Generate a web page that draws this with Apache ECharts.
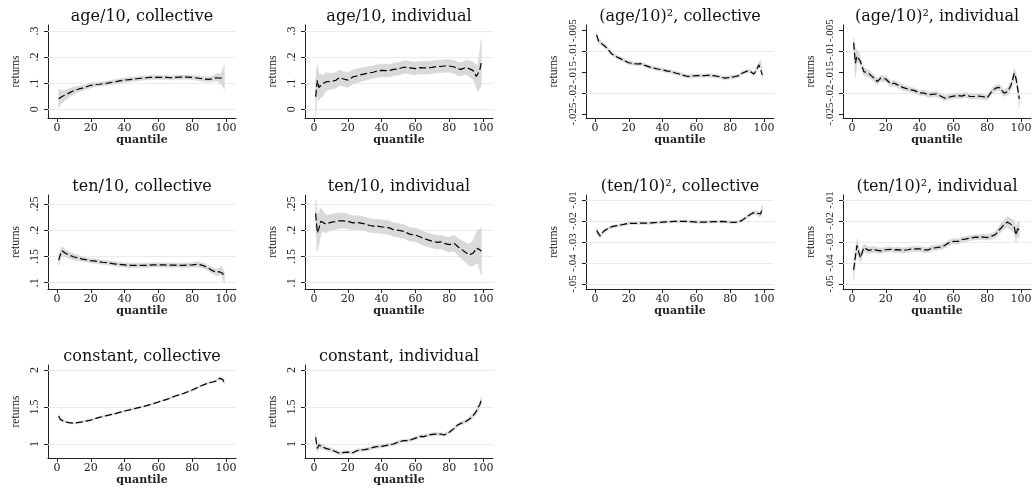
<!DOCTYPE html>
<html><head><meta charset="utf-8">
<script src="https://cdn.jsdelivr.net/npm/echarts@6/dist/echarts.min.js"></script>
<style>html,body{margin:0;padding:0;background:#fff}#c{width:1035px;height:487px}</style>
</head><body><div id="c"></div>
<script>
// ---------- DATA ----------
const quantiles = [1,2,3,4,5,7,10,13,15,17,20,23,25,27,30,33,35,37,40,43,45,47,50,53,55,57,60,63,65,67,70,73,75,77,80,83,85,87,90,92,94,95,96,97,98,99];

const ageCollEst = [.040,.046,.049,.052,.055,.062,.072,.078,.081,.085,.092,.095,.096,.098,.100,.104,.106,.109,.112,.114,.115,.117,.119,.121,.122,.122,.122,.122,.122,.121,.122,.123,.123,.123,.122,.120,.118,.116,.115,.117,.121,.123,.120,.117,.119,.122];
const ageCollHw  = [.035,.028,.024,.021,.019,.016,.013,.011,.010,.009,.009,.008,.008,.008,.008,.008,.008,.008,.008,.008,.008,.008,.008,.008,.008,.008,.008,.008,.008,.008,.008,.008,.008,.008,.008,.009,.009,.009,.010,.011,.013,.015,.016,.020,.030,.045];

const ageIndEst = [.048,.111,.083,.092,.088,.105,.107,.111,.121,.117,.112,.124,.127,.131,.136,.140,.142,.146,.149,.148,.149,.153,.155,.161,.161,.159,.156,.160,.159,.159,.161,.164,.164,.166,.166,.162,.155,.153,.161,.155,.149,.140,.126,.120,.149,.180];
const ageIndHw  = [.068,.060,.050,.045,.040,.035,.030,.030,.030,.028,.028,.027,.026,.026,.025,.024,.024,.024,.024,.024,.024,.024,.024,.024,.024,.024,.024,.024,.024,.024,.024,.024,.024,.024,.024,.025,.025,.025,.027,.030,.033,.036,.042,.050,.070,.088];

const age2CollEst = [-.0060,-.0074,-.0077,-.0081,-.0085,-.0091,-.0106,-.0113,-.0117,-.0121,-.0127,-.0129,-.0130,-.0129,-.0134,-.0138,-.0140,-.0142,-.0144,-.0147,-.0148,-.0151,-.0154,-.0158,-.0160,-.0159,-.0158,-.0158,-.0158,-.0157,-.0158,-.0160,-.0162,-.0164,-.0162,-.0160,-.0158,-.0152,-.0147,-.0148,-.0154,-.0148,-.0140,-.0132,-.0128,-.0156];
const age2CollHw  = [.0008,.0007,.0006,.0005,.0005,.0004,.0004,.0004,.0004,.0004,.0004,.0004,.0004,.0004,.0004,.0004,.0004,.0004,.0004,.0004,.0004,.0004,.0004,.0004,.0004,.0004,.0004,.0004,.0004,.0004,.0004,.0004,.0004,.0004,.0004,.0004,.0004,.0004,.0004,.0004,.0004,.0005,.0005,.0006,.0007,.0009];

const age2IndEst = [-.0079,-.0128,-.0111,-.0114,-.0124,-.0148,-.0153,-.0164,-.0172,-.0164,-.0166,-.0178,-.0176,-.0180,-.0186,-.0190,-.0192,-.0194,-.0199,-.0200,-.0204,-.0203,-.0202,-.0208,-.0212,-.0210,-.0207,-.0206,-.0207,-.0204,-.0208,-.0208,-.0207,-.0208,-.0211,-.0194,-.0188,-.0186,-.0200,-.0196,-.0182,-.0168,-.0152,-.0164,-.0188,-.0214];
const age2IndHw  = [.0012,.0035,.0016,.0012,.0010,.0009,.0008,.0008,.0008,.0007,.0007,.0007,.0007,.0007,.0007,.0006,.0006,.0006,.0006,.0006,.0006,.0006,.0006,.0006,.0006,.0006,.0006,.0006,.0006,.0006,.0006,.0006,.0006,.0006,.0006,.0007,.0007,.0007,.0008,.0009,.0010,.0011,.0012,.0013,.0015,.0019];

const tenCollEst = [.143,.153,.161,.159,.156,.153,.149,.147,.145,.144,.142,.141,.140,.139,.138,.1365,.1356,.135,.134,.133,.133,.133,.133,.133,.1335,.134,.134,.134,.1335,.1335,.1335,.133,.133,.1335,.134,.135,.134,.132,.127,.123,.120,.120,.121,.124,.118,.110];
const tenCollHw  = [.010,.009,.008,.007,.007,.006,.006,.005,.005,.004,.004,.004,.004,.004,.004,.004,.004,.004,.004,.004,.004,.004,.004,.004,.004,.004,.004,.004,.004,.004,.004,.004,.004,.004,.004,.005,.005,.005,.005,.006,.006,.007,.007,.008,.009,.011];

const tenIndEst = [.232,.195,.204,.217,.218,.212,.215,.217,.218,.218,.217,.214,.215,.214,.212,.209,.208,.208,.2065,.206,.204,.201,.200,.198,.195,.192,.191,.187,.184,.182,.179,.177,.178,.175,.1725,.175,.169,.164,.157,.153,.156,.160,.166,.169,.163,.160];
const tenIndHw  = [.026,.035,.030,.025,.020,.017,.015,.015,.015,.014,.014,.013,.013,.013,.013,.013,.013,.013,.013,.013,.013,.013,.013,.013,.013,.013,.013,.013,.013,.013,.013,.013,.013,.013,.014,.015,.016,.017,.019,.021,.024,.026,.029,.032,.038,.045];

const ten2CollEst = [-.0246,-.0259,-.0271,-.0262,-.0250,-.0239,-.0227,-.0222,-.0219,-.0216,-.0211,-.0211,-.0211,-.0210,-.0210,-.0209,-.0208,-.0207,-.0205,-.0204,-.0203,-.0202,-.0202,-.0202,-.0202,-.0203,-.0205,-.0205,-.0205,-.0204,-.0203,-.0203,-.0202,-.0203,-.0205,-.0206,-.0204,-.0197,-.0179,-.0168,-.0160,-.0161,-.0163,-.0170,-.0166,-.0140];
const ten2CollHw  = [.0015,.0012,.0010,.0009,.0008,.0007,.0006,.0006,.0006,.0006,.0006,.0006,.0006,.0006,.0006,.0006,.0006,.0006,.0006,.0006,.0006,.0006,.0006,.0006,.0006,.0006,.0006,.0006,.0006,.0006,.0006,.0006,.0006,.0006,.0006,.0006,.0006,.0006,.0007,.0008,.0009,.0010,.0010,.0011,.0013,.0016];

const ten2IndEst = [-.0433,-.0371,-.0316,-.0348,-.0375,-.0327,-.0340,-.0335,-.0340,-.0342,-.0337,-.0335,-.0338,-.0336,-.0340,-.0337,-.0334,-.0333,-.0333,-.0338,-.0338,-.0330,-.0327,-.0323,-.0316,-.0305,-.0297,-.0297,-.0288,-.0286,-.0281,-.0277,-.0278,-.0276,-.0279,-.0271,-.0264,-.0244,-.0217,-.0205,-.0216,-.0221,-.0229,-.0267,-.0236,-.0244];
const ten2IndHw  = [.0050,.0040,.0030,.0025,.0020,.0017,.0015,.0014,.0013,.0013,.0012,.0012,.0012,.0012,.0012,.0012,.0012,.0012,.0012,.0012,.0012,.0012,.0012,.0012,.0012,.0012,.0012,.0012,.0012,.0012,.0012,.0012,.0012,.0012,.0013,.0014,.0015,.0018,.0022,.0025,.0027,.0028,.0030,.0032,.0035,.0040];

const constCollEst = [1.378,1.333,1.315,1.308,1.302,1.288,1.282,1.292,1.300,1.310,1.324,1.347,1.360,1.370,1.387,1.403,1.414,1.427,1.446,1.462,1.473,1.484,1.500,1.519,1.532,1.546,1.568,1.590,1.604,1.622,1.649,1.670,1.685,1.703,1.730,1.762,1.784,1.802,1.829,1.838,1.850,1.874,1.888,1.900,1.874,1.829];
const constCollHw  = [.020,.018,.015,.013,.012,.011,.010,.010,.010,.010,.010,.010,.010,.010,.010,.010,.010,.010,.010,.010,.010,.010,.010,.010,.010,.010,.010,.010,.010,.010,.010,.010,.010,.010,.010,.010,.010,.010,.011,.011,.012,.012,.013,.015,.017,.020];

const constIndEst = [1.090,.940,.986,.973,.964,.941,.923,.896,.874,.883,.890,.883,.905,.919,.924,.937,.955,.964,.968,.982,.991,1.000,1.027,1.045,1.045,1.054,1.079,1.104,1.100,1.117,1.131,1.135,1.135,1.122,1.160,1.212,1.257,1.279,1.308,1.337,1.382,1.405,1.437,1.491,1.527,1.595];
const constIndHw  = [.060,.050,.040,.035,.030,.027,.025,.024,.023,.022,.022,.021,.021,.020,.020,.020,.020,.020,.020,.020,.020,.020,.020,.020,.020,.020,.020,.020,.020,.020,.020,.020,.020,.020,.021,.021,.022,.023,.025,.027,.030,.032,.034,.036,.040,.045];

const xTicks = [0,20,40,60,80,100];
const ageTicks = [0,.1,.2,.3];
const age2Ticks = [-.025,-.02,-.015,-.01,-.005];
const tenTicks = [.1,.15,.2,.25];
const ten2Ticks = [-.05,-.04,-.03,-.02,-.01];
const constTicks = [1,1.5,2];

const titles = ['age/10, collective','age/10, individual','(age/10)², collective','(age/10)², individual',
                'ten/10, collective','ten/10, individual','(ten/10)², collective','(ten/10)², individual',
                'constant, collective','constant, individual'];

// ---------- LAYOUT ----------
const colLeft = [48, 305, 586, 843];
const rowTop = [25, 195, 365];
const rowBottom = [118, 289, 458];
const titleY = [17, 187, 357];
const W = 188;
const X_MIN = -5.3, X_MAX = 105.9;

const panels = [
  {est: ageCollEst,  hw: ageCollHw,  ticks: ageTicks,  col:0,row:0, ymin:-0.0333, ymax:0.323, lab:12},
  {est: ageIndEst,   hw: ageIndHw,   ticks: ageTicks,  col:1,row:0, ymin:-0.0333, ymax:0.323, lab:12},
  {est: age2CollEst, hw: age2CollHw, ticks: age2Ticks, col:2,row:0, ymin:-0.02596, ymax:-0.00363, lab:11},
  {est: age2IndEst,  hw: age2IndHw,  ticks: age2Ticks, col:3,row:0, ymin:-0.02596, ymax:-0.00363, lab:11},
  {est: tenCollEst,  hw: tenCollHw,  ticks: tenTicks,  col:0,row:1, ymin:0.088, ymax:0.2672, lab:12},
  {est: tenIndEst,   hw: tenIndHw,   ticks: tenTicks,  col:1,row:1, ymin:0.088, ymax:0.2672, lab:12},
  {est: ten2CollEst, hw: ten2CollHw, ticks: ten2Ticks, col:2,row:1, ymin:-0.0524, ymax:-0.0076, lab:11},
  {est: ten2IndEst,  hw: ten2IndHw,  ticks: ten2Ticks, col:3,row:1, ymin:-0.0524, ymax:-0.0076, lab:11},
  {est: constCollEst,hw: constCollHw,ticks: constTicks,col:0,row:2, ymin:0.811, ymax:2.068, lab:12},
  {est: constIndEst, hw: constIndHw, ticks: constTicks,col:1,row:2, ymin:0.811, ymax:2.068, lab:12}
];

const fmt = v => String(v).replace(/^(-?)0\./, '$1.');
const SERIF = '"Liberation Serif", "Times New Roman", serif';
const WSERIF = '"DejaVu Serif", serif';

const grid = [], xAxis = [], yAxis = [], series = [], title = [];
panels.forEach((p, i) => {
  const left = colLeft[p.col], top = rowTop[p.row], h = rowBottom[p.row] - rowTop[p.row];
  grid.push({left: left, top: top, width: W, height: h, containLabel: false});
  title.push({text: titles[i], left: left + W/2, top: titleY[p.row], padding: 0,
    textAlign: 'center', textVerticalAlign: 'middle',
    textStyle: {fontFamily: WSERIF, fontSize: 16, fontWeight: 'normal', color: '#111'}});
  xAxis.push({type: 'value', gridIndex: i, min: X_MIN, max: X_MAX,
    name: 'quantile', nameLocation: 'middle', nameGap: 14,
    nameTextStyle: {fontFamily: WSERIF, fontSize: 11, fontWeight: 'bold', color: '#222'},
    axisLine: {show: true, onZero: false, lineStyle: {color: '#222', width: 1}},
    axisTick: {show: true, length: 4, customValues: xTicks, lineStyle: {color: '#222'}},
    axisLabel: {customValues: xTicks, margin: 5, fontFamily: WSERIF, fontSize: 11, color: '#222'},
    splitLine: {show: false}});
  yAxis.push({type: 'value', gridIndex: i, min: p.ymin, max: p.ymax,
    name: 'returns', nameLocation: 'middle', nameGap: 26,
    nameTextStyle: {fontFamily: SERIF, fontSize: 11.5, color: '#222'},
    axisLine: {show: true, onZero: false, lineStyle: {color: '#222', width: 1}},
    axisTick: {show: true, length: 4, customValues: p.ticks, lineStyle: {color: '#222'}},
    axisLabel: {customValues: p.ticks, rotate: 90, margin: 7, fontFamily: SERIF, fontSize: p.lab, color: '#222', formatter: fmt},
    splitLine: {show: false}});

  // confidence band: one polygon through the axis scales
  const bandData = quantiles.map((q, j) => [q, p.est[j] - p.hw[j], p.est[j] + p.hw[j]]);
  series.push({type: 'custom', xAxisIndex: i, yAxisIndex: i, data: bandData, clip: true, silent: true, z: 2,
    encode: {x: 0, y: [1, 2]}, animation: false,
    renderItem: (params, api) => {
      if (params.dataIndex !== 0) return null;
      const up = bandData.map(d => api.coord([d[0], d[2]]));
      const lo = bandData.slice().reverse().map(d => api.coord([d[0], d[1]]));
      return {type: 'polygon', shape: {points: up.concat(lo)}, style: {fill: '#d9d9d9', stroke: '#d9d9d9', lineWidth: 0.6}};
    },
    markLine: {silent: true, symbol: 'none', animation: false, z: 1, label: {show: false},
      lineStyle: {color: '#ebebeb', type: 'solid', width: 1},
      data: p.ticks.map(v => ({yAxis: v}))}});
  series.push({type: 'line', xAxisIndex: i, yAxisIndex: i, data: quantiles.map((q, j) => [q, p.est[j]]),
    symbol: 'none', silent: true, z: 3,
    lineStyle: {color: '#000', width: 1.2, type: [7, 3]}, animation: false});
});

const chart = echarts.init(document.getElementById('c'), null, {renderer: 'canvas'});
chart.setOption({backgroundColor: '#fff', animation: false, title, grid, xAxis, yAxis, series});
</script>
</body></html>
